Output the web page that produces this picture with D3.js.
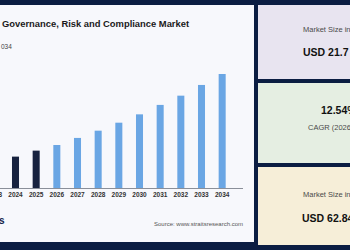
<!DOCTYPE html>
<html>
<head>
<meta charset="utf-8">
<script src="https://cdn.jsdelivr.net/npm/d3@7"></script>
<style>
  html, body { margin: 0; padding: 0; background: #0b1d42; }
  svg { display: block; font-family: "Liberation Sans", Arial, sans-serif; }
</style>
</head>
<body>
<svg width="350" height="250"></svg>
<script>
// values (USD billion)
var years = ["2023", "2024", "2025", "2026", "2027", "2028", "2029", "2030", "2031", "2032", "2033", "2034"];
var marketSize = [15.2, 17.3, 20.6, 23.7, 27.6, 31.6, 36.0, 40.6, 45.8, 50.9, 56.8, 62.84];
var historicYears = ["2023", "2024", "2025"];

var cardTexts = [
  {label: "Market Size in", value: "USD 21.7", fill: "#e8e4f0"},
  {label: "CAGR (2026", value: "12.54%", fill: "#e5eee2"},
  {label: "Market Size in", value: "USD 62.84", fill: "#f6eed8"}
];

function main(){
var svg = d3.select("svg");

// white chart panel
svg.append("rect")
    .attr("x", -2).attr("y", 5)
    .attr("width", 256).attr("height", 237)
    .attr("fill", "#f7f8fc");

// right hand cards
var cardY = [[5, 79], [83, 163], [167, 245]];
svg.selectAll("rect.card")
    .data(cardTexts)
  .enter().append("rect")
    .attr("class", "card")
    .attr("x", 258)
    .attr("y", function(d, i) { return cardY[i][0]; })
    .attr("width", 100)
    .attr("height", function(d, i) { return cardY[i][1] - cardY[i][0]; })
    .attr("fill", function(d) { return d.fill; });

// card 1
svg.append("text").attr("x", 303).attr("y", 31.5)
    .attr("font-size", 7.5).attr("fill", "#4a4a4a").text(cardTexts[0].label);
svg.append("text").attr("x", 303).attr("y", 55.5)
    .attr("font-size", 10.5).attr("font-weight", "bold").attr("fill", "#111").text(cardTexts[0].value);
// card 2
svg.append("text").attr("x", 321).attr("y", 113.5)
    .attr("font-size", 10.5).attr("font-weight", "bold").attr("fill", "#111").text(cardTexts[1].value);
svg.append("text").attr("x", 308).attr("y", 129.5)
    .attr("font-size", 7.5).attr("fill", "#4a4a4a").text(cardTexts[1].label);
// card 3
svg.append("text").attr("x", 303).attr("y", 197)
    .attr("font-size", 7.5).attr("fill", "#4a4a4a").text(cardTexts[2].label);
svg.append("text").attr("x", 302).attr("y", 221.5)
    .attr("font-size", 10.5).attr("font-weight", "bold").attr("fill", "#111").text(cardTexts[2].value);

// title
svg.append("text")
    .attr("x", 2).attr("y", 26.5)
    .attr("font-size", 9.4).attr("font-weight", "bold").attr("fill", "#1a1a1a")
    .text("Governance, Risk and Compliance Market");

svg.append("text")
    .attr("x", 1).attr("y", 49)
    .attr("font-size", 6.5).attr("fill", "#444")
    .text("034");

// bars
var x = d3.scaleBand()
    .domain(years)
    .range([-15.5, 232.5])
    .paddingInner(0.66)
    .paddingOuter(0.33);

var y = d3.scaleLinear()
    .domain([0, 62.84])
    .range([188, 74]);

var data = years.map(function(d, i) { return {year: d, value: marketSize[i]}; });

svg.append("g")
  .selectAll("rect")
  .data(data)
  .enter().append("rect")
    .attr("x", function(d) { return x(d.year); })
    .attr("y", function(d) { return y(d.value); })
    .attr("width", x.bandwidth())
    .attr("height", function(d) { return y(0) - y(d.value); })
    .attr("fill", function(d) { return historicYears.indexOf(d.year) >= 0 ? "#17223f" : "#6aa6e4"; });

var axis = svg.append("g")
    .attr("transform", "translate(0,188)")
    .call(d3.axisBottom(x).tickSize(0).tickPadding(4.5));
axis.select(".domain").attr("d", "M-2,0.5H243").attr("stroke", "#8a8f99").attr("stroke-width", 1);
axis.selectAll("text")
    .attr("font-size", 6.5)
    .attr("font-weight", "bold")
    .attr("fill", "#333")
    .attr("font-family", "Liberation Sans, Arial, sans-serif");

// footer
svg.append("text")
    .attr("x", -1).attr("y", 224)
    .attr("font-size", 10).attr("font-weight", "bold").attr("fill", "#14234a")
    .text("s");

svg.append("text")
    .attr("x", 243).attr("y", 225.5)
    .attr("text-anchor", "end")
    .attr("font-size", 6).attr("fill", "#555")
    .text("Source: www.straitsresearch.com");
}
main()
</script>
</body>
</html>
